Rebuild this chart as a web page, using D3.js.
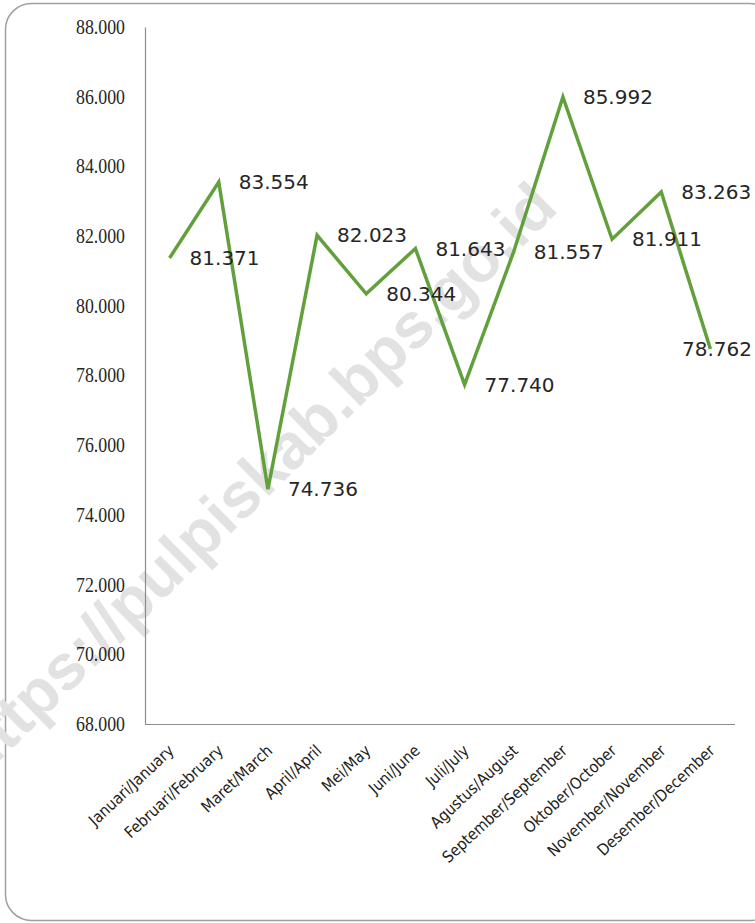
<!DOCTYPE html>
<html>
<head>
<meta charset="utf-8">
<script src="https://cdn.jsdelivr.net/npm/d3@7"></script>
<style>
  html, body { margin: 0; padding: 0; background: #ffffff; }
  svg { display: block; }
</style>
</head>
<body>
<div id="chart"></div>
<script>
const months = ["Januari/January","Februari/February","Maret/March","April/April","Mei/May","Juni/June","Juli/July","Agustus/August","September/September","Oktober/October","November/November","Desember/December"];
const values = [81.371, 83.554, 74.736, 82.023, 80.344, 81.643, 77.740, 81.557, 85.992, 81.911, 83.263, 78.762];
const yTicks = [68, 70, 72, 74, 76, 78, 80, 82, 84, 86, 88];
const watermarkText = "https://pulpiskab.bps.go.id";

const W = 755, H = 923;
const plotLeft = 145, plotRight = 735, plotTop = 27, plotBottom = 724;

const svg = d3.select("#chart").append("svg").attr("width", W).attr("height", H);

// outer rounded border
svg.append("rect")
  .attr("x", 5.5).attr("y", 3.5)
  .attr("width", 770).attr("height", 917)
  .attr("rx", 26).attr("ry", 26)
  .attr("fill", "#ffffff").attr("stroke", "#a0a0a0").attr("stroke-width", 1.5);

const x = d3.scalePoint().domain(months).range([plotLeft, plotRight]).padding(0.5);
const y = d3.scaleLinear().domain([68, 88]).range([plotBottom, plotTop]);
const fmt = d3.format(".3f");

// watermark
svg.append("text")
  .attr("transform", "translate(560,210) rotate(-44.5)")
  .attr("text-anchor", "end")
  .attr("font-family", "Liberation Sans, Arial, sans-serif")
  .attr("font-weight", "bold")
  .attr("font-size", 64)
  .attr("fill", "#e2e2e2")
  .text(watermarkText);

// y axis
const yAxis = d3.axisLeft(y).tickValues(yTicks).tickSize(0).tickPadding(20).tickFormat(fmt);
const gy = svg.append("g").attr("transform", `translate(${plotLeft},0)`).call(yAxis);
gy.select(".domain").attr("stroke", "#8c8c8c").attr("stroke-width", 1.2);
gy.selectAll("text")
  .attr("font-family", "Liberation Serif, Times New Roman, serif")
  .attr("font-size", 20)
  .attr("fill", "#262626")
  .attr("textLength", 49)
  .attr("lengthAdjust", "spacingAndGlyphs");

// x axis
const xAxis = d3.axisBottom(x).tickSize(0).tickSizeOuter(0);
const gx = svg.append("g").attr("transform", `translate(0,${plotBottom})`).call(xAxis);
gx.select(".domain").attr("d", `M${plotLeft},0.5H${plotRight}`).attr("stroke", "#8c8c8c").attr("stroke-width", 1.2);
gx.selectAll(".tick text")
  .attr("font-family", "Liberation Sans Narrow, DejaVu Sans Condensed, Arial Narrow, sans-serif")
  .attr("font-size", 16)
  .attr("fill", "#1e1e1e")
  .attr("text-anchor", "end")
  .attr("dy", 0)
  .attr("y", 0)
  .attr("transform", "translate(5,28) rotate(-43)");

// line
const line = d3.line().x((d, i) => x(months[i])).y(d => y(d));
svg.append("path")
  .datum(values)
  .attr("d", line)
  .attr("fill", "none")
  .attr("stroke", "#62a03c")
  .attr("stroke-width", 3.5)
  .attr("stroke-linejoin", "miter");

// data labels
const labels = svg.append("g").selectAll("text")
  .data(values)
  .join("text")
  .attr("font-family", "DejaVu Sans, Verdana, sans-serif")
  .attr("font-size", 20)
  .attr("fill", "#262626")
  .attr("dy", "0.36em")
  .attr("y", d => y(d))
  .text(d => fmt(d));
labels.each(function(d, i) {
  const w = this.getComputedTextLength();
  let lx = x(months[i]) + 20;
  if (lx + w > 752) lx = 752 - w;
  d3.select(this).attr("x", lx);
});
</script>
</body>
</html>
